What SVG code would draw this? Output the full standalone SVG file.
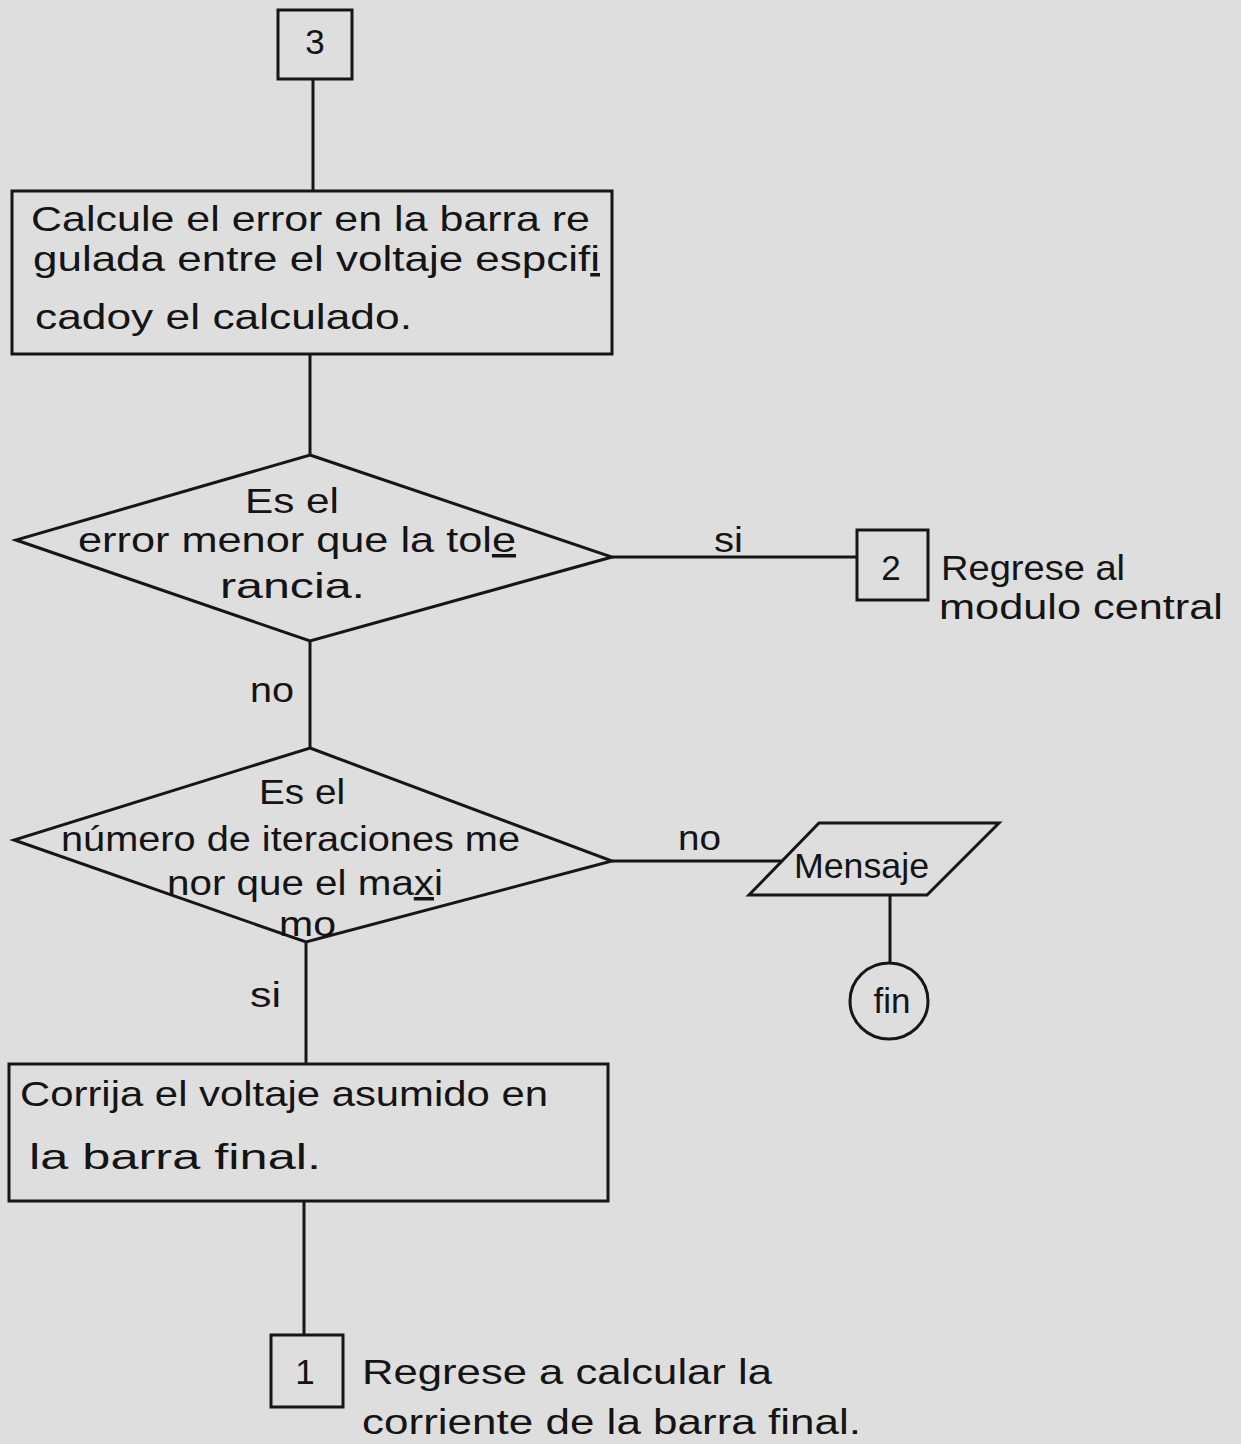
<svg xmlns="http://www.w3.org/2000/svg" width="1241" height="1444" viewBox="0 0 1241 1444">
<style>
.bg{fill:#dedede}
.shape{fill:none;stroke:#161616;stroke-width:3;stroke-linejoin:miter}
.conn line{stroke:#161616;stroke-width:3}
text{font-family:"Liberation Sans","DejaVu Sans",sans-serif;font-size:35px;fill:#141414}
.m{text-anchor:middle}
.u{text-decoration:underline}
</style>
<rect class="bg" x="0" y="0" width="1241" height="1444"/>
<g class="conn" id="connectors">
<line x1="313" y1="79" x2="313" y2="191"/>
<line x1="310" y1="354" x2="310" y2="455"/>
<line x1="612" y1="557" x2="858" y2="557"/>
<line x1="310" y1="641" x2="310" y2="748"/>
<line x1="612" y1="861" x2="782" y2="861"/>
<line x1="890" y1="895" x2="890" y2="963"/>
<line x1="306" y1="942" x2="306" y2="1064"/>
<line x1="304" y1="1201" x2="304" y2="1335"/>
</g>
<g id="lbl-si1"><text x="714" y="552" textLength="29" lengthAdjust="spacingAndGlyphs">si</text></g>
<g id="lbl-no1"><text x="250" y="702" textLength="44" lengthAdjust="spacingAndGlyphs">no</text></g>
<g id="lbl-no2"><text x="678" y="850" textLength="43" lengthAdjust="spacingAndGlyphs">no</text></g>
<g id="lbl-si2"><text x="250" y="1007" textLength="31" lengthAdjust="spacingAndGlyphs">si</text></g>

<g id="conn3">
<rect class="shape" x="278" y="10" width="74" height="69"/>
<text class="m" x="315" y="54">3</text>
</g>
<g id="calc-error">
<rect class="shape" x="12" y="191" width="600" height="163"/>
<text x="31" y="231" textLength="559" lengthAdjust="spacingAndGlyphs">Calcule el error en la barra re</text>
<text x="33" y="271" textLength="567" lengthAdjust="spacingAndGlyphs">gulada entre el voltaje espcif<tspan class="u">i</tspan></text>
<text x="35" y="329" textLength="377" lengthAdjust="spacingAndGlyphs">cadoy el calculado.</text>
</g>
<g id="dec-tol">
<polygon class="shape" points="310,455 612,557 310,641 16,540"/>
<text x="245" y="513" textLength="94" lengthAdjust="spacingAndGlyphs">Es el</text>
<text x="78" y="552" textLength="438" lengthAdjust="spacingAndGlyphs">error menor que la tol<tspan class="u">e</tspan></text>
<text x="220" y="598" textLength="145" lengthAdjust="spacingAndGlyphs">rancia.</text>
</g>
<g id="conn2">
<rect class="shape" x="857" y="530" width="71" height="70"/>
<text class="m" x="891" y="580">2</text>
<text x="941" y="580" textLength="184" lengthAdjust="spacingAndGlyphs">Regrese al</text>
<text x="939" y="619" textLength="284" lengthAdjust="spacingAndGlyphs">modulo central</text>
</g>
<g id="dec-iter">
<polygon class="shape" points="310,748 612,861 306,942 14,840"/>
<text x="259" y="804" textLength="86" lengthAdjust="spacingAndGlyphs">Es el</text>
<text x="61" y="851" textLength="459" lengthAdjust="spacingAndGlyphs">número de iteraciones me</text>
<text x="167" y="895" textLength="276" lengthAdjust="spacingAndGlyphs">nor que el ma<tspan class="u">x</tspan>i</text>
<text x="279" y="936" textLength="57" lengthAdjust="spacingAndGlyphs">mo</text>
</g>
<g id="mensaje">
<polygon class="shape" points="819,823 999,823 927,895 749,895"/>
<text x="794" y="878" textLength="135" lengthAdjust="spacingAndGlyphs">Mensaje</text>
</g>
<g id="fin">
<ellipse class="shape" cx="889" cy="1001" rx="39" ry="38"/>
<text class="m" x="892" y="1013">fin</text>
</g>
<g id="corrija">
<rect class="shape" x="9" y="1064" width="599" height="137"/>
<text x="20" y="1106" textLength="528" lengthAdjust="spacingAndGlyphs">Corrija el voltaje asumido en</text>
<text x="29" y="1169" textLength="292" lengthAdjust="spacingAndGlyphs">la barra final.</text>
</g>
<g id="conn1">
<rect class="shape" x="271" y="1335" width="72" height="72"/>
<text class="m" x="305" y="1384">1</text>
<text x="362" y="1384" textLength="410" lengthAdjust="spacingAndGlyphs">Regrese a calcular la</text>
<text x="362" y="1434" textLength="499" lengthAdjust="spacingAndGlyphs">corriente de la barra final.</text>
</g>
</svg>
